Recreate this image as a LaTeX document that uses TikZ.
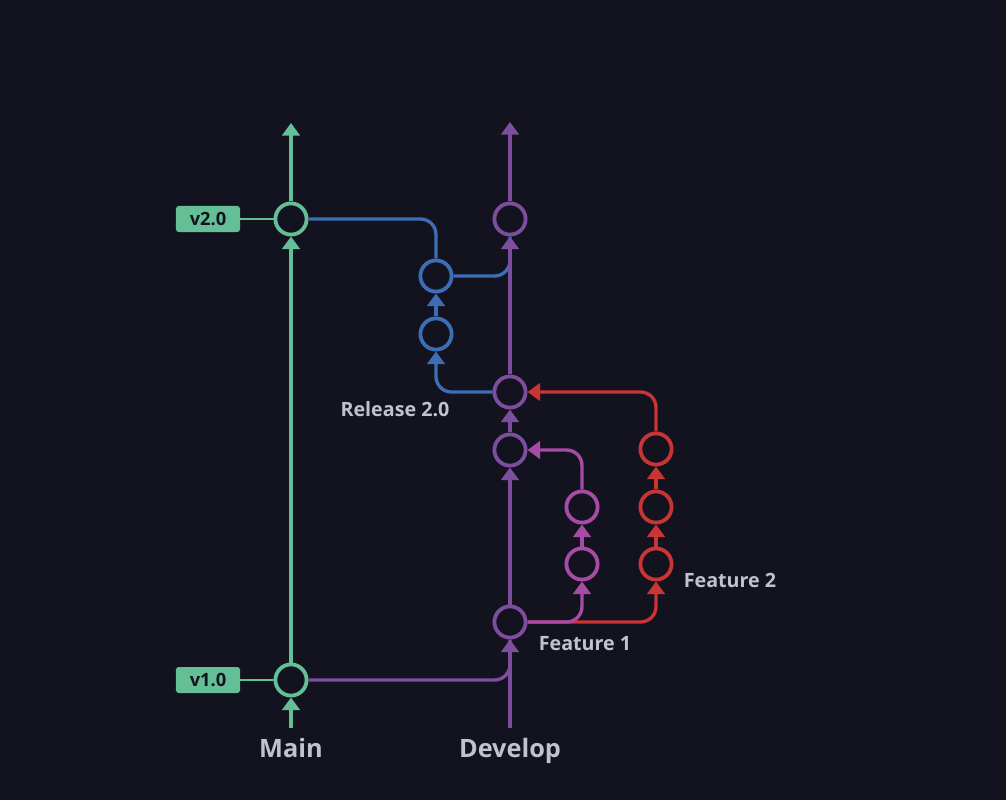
\documentclass[tikz,border=0pt]{standalone}
\usepackage{fontspec}
\setmainfont{Open Sans}
\usetikzlibrary{positioning,arrows.meta}
\definecolor{bgdark}{HTML}{13131F}
\definecolor{maingreen}{HTML}{64BE96}
\definecolor{devpurple}{HTML}{7E4E9E}
\definecolor{relblue}{HTML}{3D6DB5}
\definecolor{featmagenta}{HTML}{A64CA6}
\definecolor{featred}{HTML}{C93434}
\definecolor{labelgrey}{HTML}{C2C2CA}
\begin{document}
\begin{tikzpicture}[x=0.025cm,y=-0.025cm,
    main node/.style={circle,draw,line width=2.7pt,minimum size=0.78cm,inner sep=0pt},
    branch/.style={line width=2.4pt,rounded corners=11pt},
    tip/.style={-{Triangle[length=9pt,width=12.5pt]}},
    tag/.style={rounded corners=2pt,fill=maingreen,text=bgdark,font=\bfseries\fontsize{13}{13}\selectfont,minimum width=1.6cm,minimum height=0.65cm,inner sep=0pt},
    lbl/.style={text=labelgrey,font=\bfseries\fontsize{14}{14}\selectfont}]

    \fill[bgdark] (0,0) rectangle (1006,800);
    \useasboundingbox (0,0) rectangle (1006,800);

    % main
    \node[main node][draw = maingreen](V2) at (291,219){};
    \node[main node][draw = maingreen](V1) at (291,680){};
    \coordinate (mtop) at (291,123);
    \coordinate (mbot) at (291,728);
    \node[tag](T2) at (208,219){v2.0};
    \node[tag](T1) at (208,680){v1.0};

    % develop
    \node[main node][draw = devpurple](D4) at (510,219){};
    \node[main node][draw = devpurple](D3) at (510,392){};
    \node[main node][draw = devpurple](D2) at (510,450){};
    \node[main node][draw = devpurple](D1) at (510,622){};
    \coordinate (dtop) at (510,122);
    \coordinate (dbot) at (510,728);

    % release
    \node[main node][draw = relblue](R2) at (436,276){};
    \node[main node][draw = relblue](R1) at (436,334){};

    % features
    \node[main node][draw = featmagenta](F1b) at (582,507){};
    \node[main node][draw = featmagenta](F1a) at (582,564){};
    \node[main node][draw = featred](F2c) at (656,449){};
    \node[main node][draw = featred](F2b) at (656,507){};
    \node[main node][draw = featred](F2a) at (656,564){};

    % labels
    \node[lbl, font=\bfseries\fontsize{18}{18}\selectfont, anchor=base](main) at (291,757){Main};
    \node[lbl, font=\bfseries\fontsize{18}{18}\selectfont, anchor=base](develop) at (510,757){Develop};
    \node[lbl](release) at (395,409){Release 2.0};
    \node[lbl](feat1) at (585,644){Feature 1};
    \node[lbl](feat2) at (730,580){Feature 2};

    \draw[maingreen, line width=1.1pt] (T2) -- (V2);
    \draw[maingreen, line width=1.1pt] (T1) -- (V1);
    \draw[branch, tip, draw = maingreen] (mbot) -- (V1);
    \draw[branch, tip, draw = maingreen] (V1) -- (V2);
    \draw[branch, tip, draw = maingreen] (V2) -- (mtop);

    \draw[branch, draw = relblue] (R2) -| (D4);
    \draw[branch, draw = devpurple] (V1) -| (D1);
    \draw[branch, tip, draw = devpurple] (dbot) -- (D1);
    \draw[branch, tip, draw = devpurple] (D1) -- (D2);
    \draw[branch, tip, draw = devpurple] (D2) -- (D3);
    \draw[branch, tip, draw = devpurple] (D3) -- (D4);
    \draw[branch, tip, draw = devpurple] (D4) -- (dtop);

    \draw[branch, tip, draw = featred] (D1) -| (F2a);
    \draw[branch, tip, draw = featred] (F2a) -- (F2b);
    \draw[branch, tip, draw = featred] (F2b) -- (F2c);
    \draw[branch, tip, draw = featred] (F2c) |- (D3);

    \draw[branch, tip, draw = featmagenta] (D1) -| (F1a);
    \draw[branch, tip, draw = featmagenta] (F1a) -- (F1b);
    \draw[branch, tip, draw = featmagenta] (F1b) |- (D2);

    \draw[branch, tip, draw = relblue] (D3) -| (R1);
    \draw[branch, tip, draw = relblue] (R1) -- (R2);
    \draw[branch, draw = relblue] (R2) |- (V2);
\end{tikzpicture}
\end{document}
